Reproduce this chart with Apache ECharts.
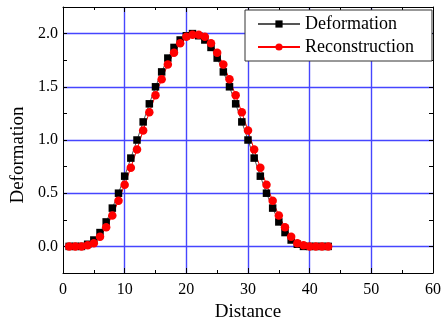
<!DOCTYPE html>
<html>
<head>
<meta charset="utf-8">
<script src="https://cdn.jsdelivr.net/npm/echarts@6/dist/echarts.min.js"></script>
<style>
html,body{margin:0;padding:0;background:#fff;}
#chart{width:445px;height:334px;}
</style>
</head>
<body>
<div id="chart"></div>
<script>
var distance = [1,2,3,4,5,6,7,8,9,10,11,12,13,14,15,16,17,18,19,20,21,22,23,24,25,26,27,28,29,30,31,32,33,34,35,36,37,38,39,40,41,42,43];
var deformation = [0,0,0,0.02,0.06,0.13,0.23,0.36,0.50,0.66,0.83,1.00,1.17,1.34,1.50,1.64,1.77,1.87,1.94,1.98,2.00,1.98,1.94,1.87,1.77,1.64,1.50,1.34,1.17,1.00,0.83,0.66,0.50,0.36,0.23,0.13,0.06,0.02,0,0,0,0,0];
var reconstruction = [0,0,0,0.01,0.03,0.09,0.18,0.29,0.43,0.58,0.74,0.91,1.09,1.26,1.42,1.57,1.71,1.82,1.91,1.97,1.99,1.99,1.97,1.91,1.82,1.71,1.57,1.42,1.26,1.09,0.91,0.74,0.58,0.43,0.29,0.18,0.09,0.03,0.01,0,0,0,0];
var xTicks = [0,10,20,30,40,50,60];
var yTicks = [0.0,0.5,1.0,1.5,2.0];

function pairs(ys){ return distance.map(function(x,i){ return [x, ys[i]]; }); }

var font = 'Liberation Serif';
var blue = '#4646ff';
var chart = echarts.init(document.getElementById('chart'), null, {renderer:'canvas'});
var frameAxisLine = {show:true, onZero:false, lineStyle:{color:'#000', width:1}};
chart.setOption({
  animation:false,
  backgroundColor:'#fff',
  grid:{left:63, right:12, top:7, bottom:61},
  legend:{
    orient:'vertical', left:245, top:10,
    padding:[5,18,5,12], itemGap:5,
    itemWidth:42, itemHeight:9,
    backgroundColor:'#fff', borderColor:'#333', borderWidth:1,
    textStyle:{fontFamily:font, fontSize:18, color:'#000'},
    data:['Deformation','Reconstruction']
  },
  xAxis:[{
    type:'value', min:xTicks[0], max:xTicks[xTicks.length-1], interval:10,
    name:'Distance', nameLocation:'middle', nameGap:30,
    nameTextStyle:{fontFamily:font, fontSize:19, color:'#000'},
    axisLine:frameAxisLine,
    axisTick:{show:true, inside:true, length:5, lineStyle:{color:'#000'}},
    minorTick:{show:true, splitNumber:2, length:3, lineStyle:{color:'#000'}},
    axisLabel:{fontFamily:font, fontSize:16, color:'#000', margin:9},
    splitLine:{show:true, lineStyle:{color:[ 'transparent', blue, blue, blue, blue, blue, 'transparent'], width:1.4}}
  },{
    type:'value', position:'top', min:xTicks[0], max:xTicks[xTicks.length-1], interval:10,
    axisLine:frameAxisLine,
    axisTick:{show:true, inside:true, length:5, lineStyle:{color:'#000'}},
    minorTick:{show:true, splitNumber:2, length:3, lineStyle:{color:'#000'}},
    axisLabel:{show:false}, splitLine:{show:false}
  }],
  yAxis:[{
    type:'value', min:-0.25, max:2.25, interval:0.25,
    name:'Deformation', nameLocation:'middle', nameGap:31,
    nameTextStyle:{fontFamily:font, fontSize:19, color:'#000', padding:[0,30,0,0]},
    axisLine:frameAxisLine,
    axisTick:{show:true, inside:true, length:4, lineStyle:{color:'#000'}},
    axisLabel:{fontFamily:font, fontSize:16, color:'#000', margin:5,
      formatter:function(v){
        for (var i=0;i<yTicks.length;i++){ if (Math.abs(v-yTicks[i])<1e-6) return yTicks[i].toFixed(1); }
        return '';
      }},
    splitLine:{show:true, lineStyle:{color:['transparent', blue], width:1.4}}
  },{
    type:'value', position:'right', min:-0.25, max:2.25, interval:0.25,
    axisLine:frameAxisLine,
    axisTick:{show:true, inside:true, length:4, lineStyle:{color:'#000'}},
    axisLabel:{show:false}, splitLine:{show:false}
  }],
  series:[{
    name:'Deformation', type:'line', xAxisIndex:0, yAxisIndex:0,
    data:pairs(deformation),
    symbol:'rect', symbolSize:7.5,
    itemStyle:{color:'#000'},
    lineStyle:{color:'#555', width:1}
  },{
    name:'Reconstruction', type:'line', xAxisIndex:0, yAxisIndex:0,
    data:pairs(reconstruction),
    symbol:'circle', symbolSize:8.5,
    itemStyle:{color:'#ff0000'},
    lineStyle:{color:'#ff0000', width:1}
  }]
});
</script>
</body>
</html>
